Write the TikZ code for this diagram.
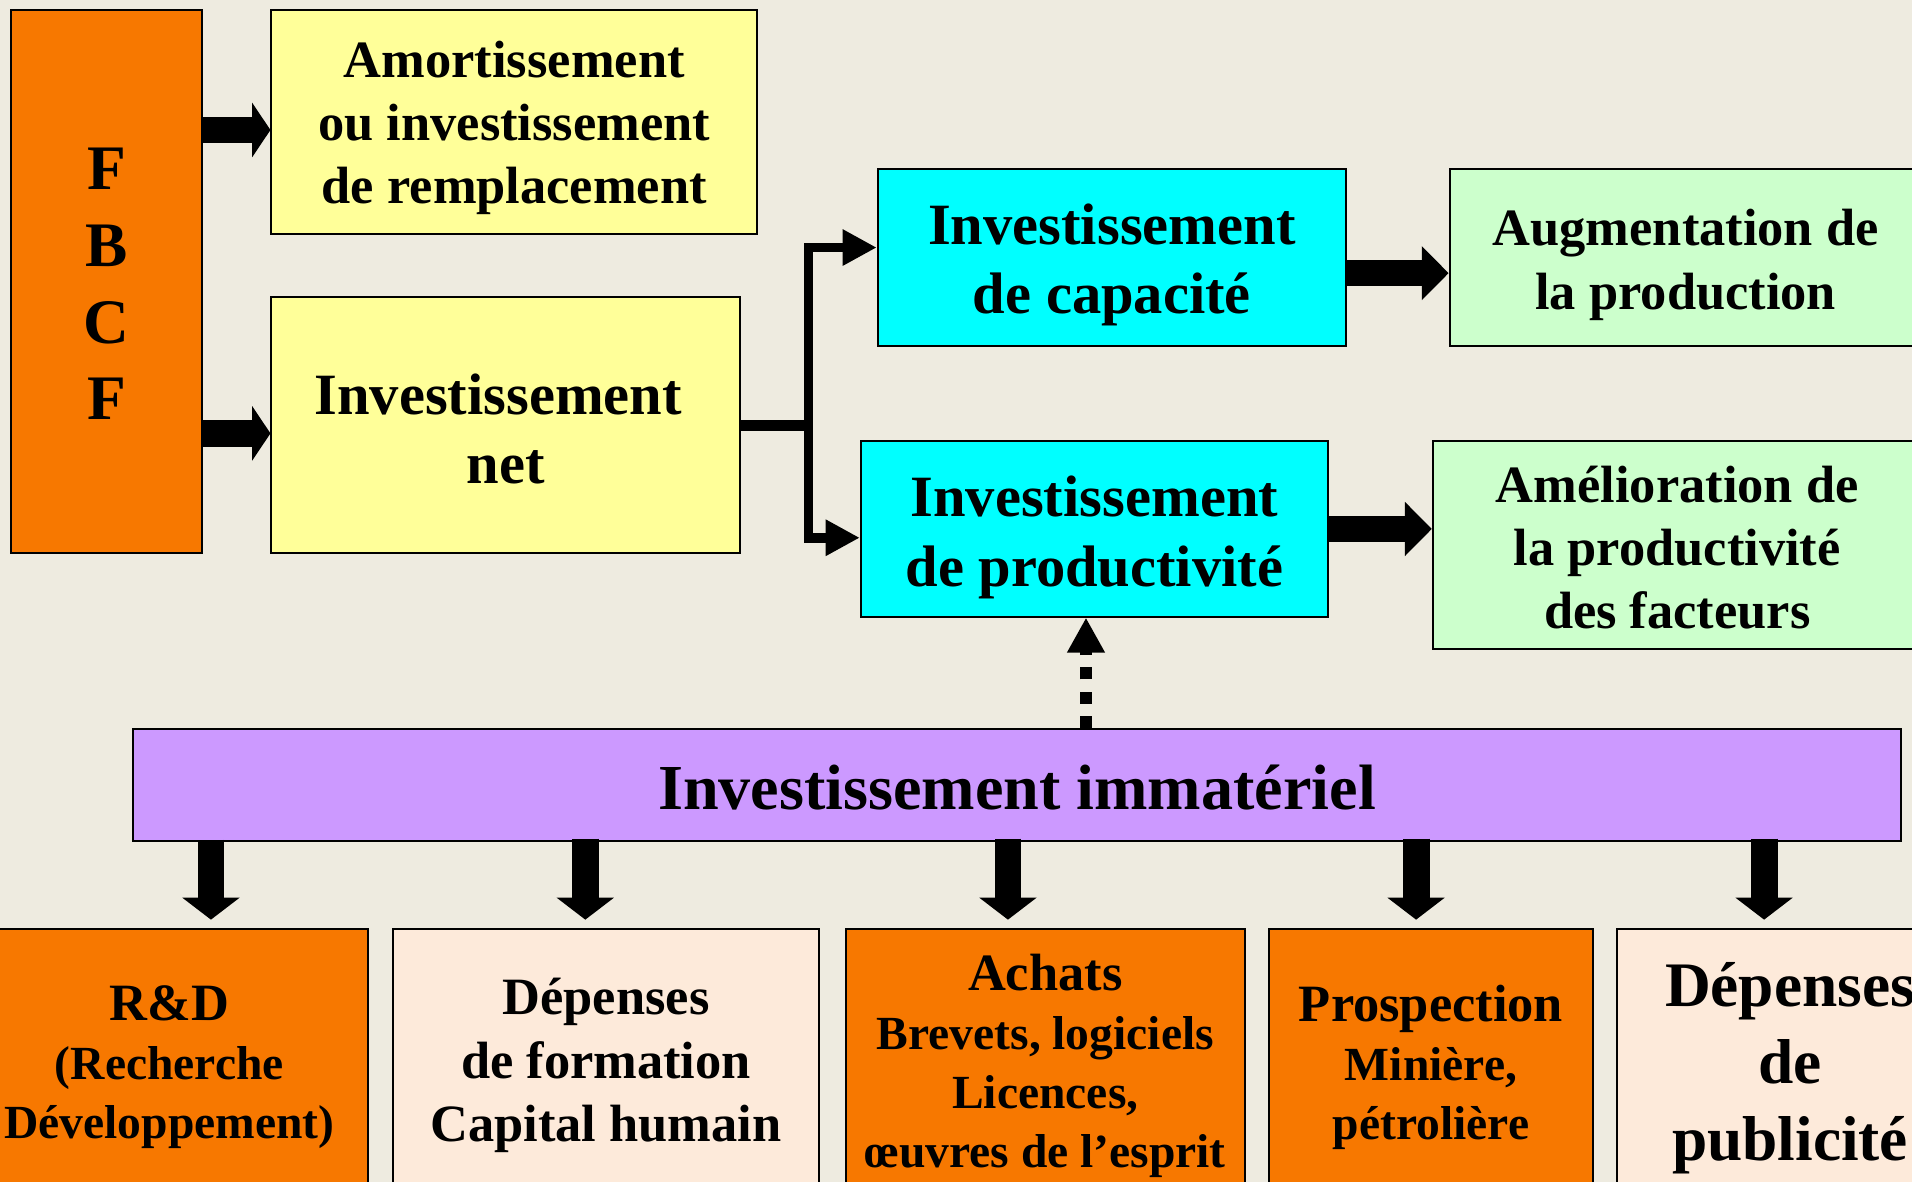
\documentclass[tikz,border=0pt]{standalone}
\usepackage{fontspec}
\setmainfont{Liberation Serif}
\usetikzlibrary{arrows.meta}
\definecolor{bg}{RGB}{238,235,224}
\definecolor{orng}{RGB}{247,120,0}
\definecolor{yel}{RGB}{255,255,153}
\definecolor{cyn}{RGB}{0,255,255}
\definecolor{grn}{RGB}{204,255,204}
\definecolor{purp}{RGB}{204,153,255}
\definecolor{peach}{RGB}{253,234,218}
\newcommand{\fsA}{\fontsize{21.5}{26}\selectfont}
\newcommand{\fsB}{\fontsize{24}{28.5}\selectfont}
\newcommand{\fsC}{\fontsize{26}{31.5}\selectfont}
\newcommand{\fsD}{\fontsize{19.5}{24.2}\selectfont}
\begin{document}
\begin{tikzpicture}[x=0.5pt,y=-0.5pt,font=\bfseries,
  box/.style={draw=black,line width=0.8pt,inner sep=0pt,rectangle},
  txt/.style={align=center,inner sep=0pt},
  fat/.style={line width=11pt,-{Triangle[length=7.5pt,width=22pt]}},
  fatb/.style={line width=10.5pt,-{Triangle[length=11pt,width=21.5pt]}},
  down/.style={line width=11pt,-{Triangle[length=9pt,width=23pt]}},
  branch/.style={line width=4pt,line join=miter,-{Triangle[length=14pt,width=14pt]}},
  dotarrow/.style={line width=5pt,dash pattern=on 5pt off 5pt,-{Triangle[length=14.3pt,width=14.5pt]}}]
\fill[bg] (0,0) rectangle (1568,969);
\useasboundingbox (0,0) rectangle (1568,969);
\clip (0,0) rectangle (1568,969);
% boxes
\node[box,fill=orng,minimum width=78.4pt,minimum height=222.7pt] (fbcf) at (87.6,230.9) {};
\node[box,fill=yel,minimum width=199.15pt,minimum height=91.75pt] (amort) at (421.75,99.95) {};
\node[box,fill=yel,minimum width=192.05pt,minimum height=105pt] (net) at (414.65,348.6) {};
\node[box,fill=cyn,minimum width=192pt,minimum height=72.5pt] (cap) at (911.8,211.3) {};
\node[box,fill=grn,minimum width=193.6pt,minimum height=72.5pt] (aug) at (1382.4,211.3) {};
\node[box,fill=cyn,minimum width=191.55pt,minimum height=71.9pt] (prod) at (897.45,433.8) {};
\node[box,fill=grn,minimum width=200.5pt,minimum height=85.2pt] (amel) at (1375.5,447.1) {};
\node[box,fill=purp,minimum width=725pt,minimum height=46pt] (immat) at (834,644) {};
\node[box,fill=orng,minimum width=162.9pt,minimum height=110.4pt] (rd) at (138.9,872) {};
\node[box,fill=peach,minimum width=175pt,minimum height=110.4pt] (form) at (497,872) {};
\node[box,fill=orng,minimum width=163.75pt,minimum height=110.4pt] (ach) at (857.25,872) {};
\node[box,fill=orng,minimum width=132.65pt,minimum height=110.4pt] (pros) at (1173.55,872) {};
\node[box,fill=peach,minimum width=142pt,minimum height=110.4pt] (pub) at (1468,872) {};
% texts
\node[txt,font=\bfseries\fsC] (fbcfT) at ([yshift=-1pt]fbcf.center) {F\\B\\C\\F};
\node[txt,font=\bfseries\fsA] (amortT) at ([yshift=-2.5pt]amort.center) {Amortissement\\ou investissement\\de remplacement};
\node[txt,font=\bfseries\fsB] (netT) at ([yshift=-1.5pt]net.center) {Investissement\hspace*{6pt}\\net};
\node[txt,font=\bfseries\fsB] (capT) at ([yshift=-3pt]cap.center) {Investissement\\de capacité};
\node[txt,font=\bfseries\fsA] (augT) at ([yshift=-3pt]aug.center) {Augmentation de\\la production};
\node[txt,font=\bfseries\fsB] (prodT) at ([yshift=-3.5pt]prod.center) {Investissement\\de productivité};
\node[txt,font=\bfseries\fsA] (amelT) at ([yshift=-1pt]amel.center) {Amélioration de\\la productivité\\des facteurs};
\node[txt,font=\bfseries\fontsize{26.3}{31.5}\selectfont] (immatT) at ([yshift=-1pt]immat.center) {Investissement immatériel};
\node[txt,font=\bfseries\fsD] (rdT) at ([yshift=-1.5pt]rd.center) {{\fsA R\&D}\\(Recherche\\Développement)};
\node[txt,font=\bfseries\fsA] (formT) at ([yshift=-1pt]form.center) {Dépenses\\de formation\\Capital humain};
\node[txt,font=\bfseries\fsD] (achT) at ([yshift=-1pt]ach.center) {{\fsA Achats}\\Brevets, logiciels\\Licences,\\œuvres de l’esprit};
\node[txt,font=\bfseries\fsD] (prosT) at ([yshift=-1.5pt]pros.center) {{\fsA Prospection}\\Minière,\\pétrolière};
\node[txt,font=\bfseries\fsC] (pubT) at ([yshift=-2pt]pub.center) {Dépenses\\de\\publicité};
% connectors top
\coordinate (r1) at (0,106.6);
\coordinate (r2) at (0,355.4);
\draw[fat] (fbcf.east |- r1) -- (amort.west |- r1);
\draw[fat] (fbcf.east |- r2) -- (net.west |- r2);
\coordinate (j) at (663,348.6);
\coordinate (capt) at ([yshift=4.15pt]cap.west);
\coordinate (prodt) at ([yshift=-3.6pt]prod.west);
\draw[line width=4.5pt] (net.east) -- (j);
\draw[branch] (j) |- (capt);
\draw[branch] (j) |- (prodt);
\coordinate (r3) at (0,224);
\draw[fatb] (cap.east |- r3) -- (aug.west |- r3);
\draw[fatb] (prod.east) -- (amel.west |- prod.east);
% dotted arrow
\coordinate (d) at (890.6,0);
\draw[dotarrow] (immat.north -| d) -- (prod.south -| d);
% bottom arrows
\coordinate (a1) at (173,0);
\coordinate (a2) at (480,0);
\coordinate (a3) at (826.6,0);
\coordinate (a4) at (1161.3,0);
\coordinate (a5) at (1446.7,0);
\draw[down] ([yshift=1pt]immat.south -| a1) -- ([yshift=3.3pt]rd.north -| a1);
\draw[down] ([yshift=1.5pt]immat.south -| a2) -- ([yshift=3.3pt]form.north -| a2);
\draw[down] ([yshift=1.5pt]immat.south -| a3) -- ([yshift=3.3pt]ach.north -| a3);
\draw[down] ([yshift=1.5pt]immat.south -| a4) -- ([yshift=3.3pt]pros.north -| a4);
\draw[down] ([yshift=1.5pt]immat.south -| a5) -- ([yshift=3.3pt]pub.north -| a5);
\end{tikzpicture}
\end{document}
